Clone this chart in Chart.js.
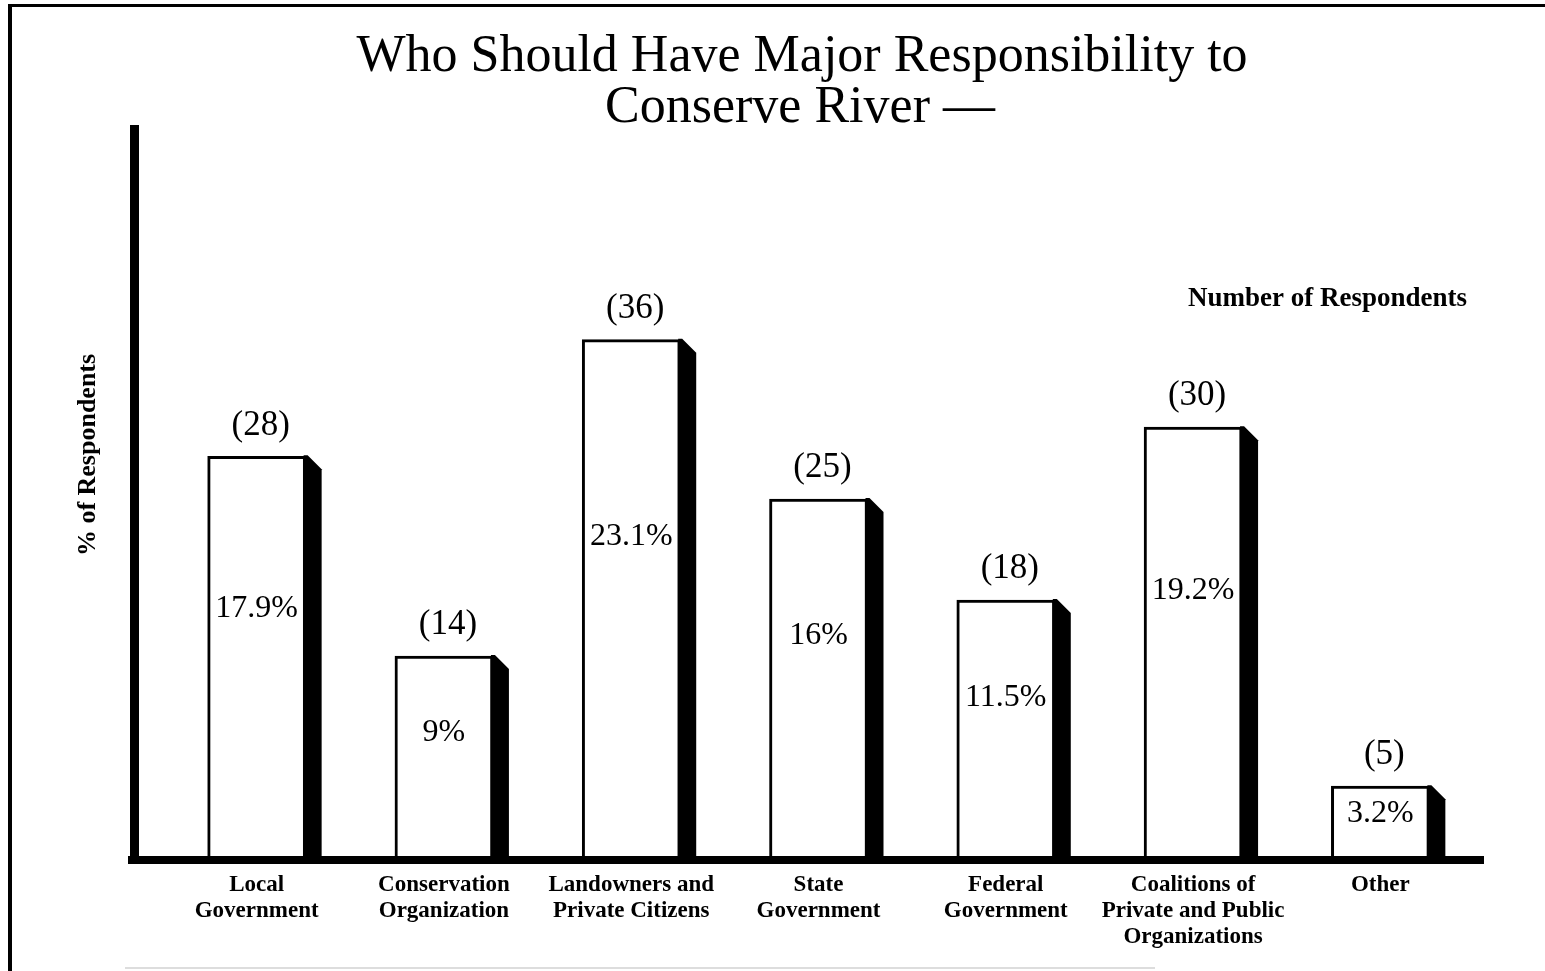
<!DOCTYPE html>
<html>
<head>
<meta charset="utf-8">
<title>Who Should Have Major Responsibility to Conserve River</title>
<script src="https://cdn.jsdelivr.net/npm/chart.js@4/dist/chart.umd.min.js"></script>
<style>
  html, body { margin: 0; padding: 0; background: #fff; }
  #wrap { position: relative; width: 1545px; height: 971px; }
</style>
</head>
<body>
<div id="wrap"><canvas id="respChart" width="1545" height="971"></canvas></div>
<script>
// data
const categories = [
    ['Local', 'Government'],
    ['Conservation', 'Organization'],
    ['Landowners and', 'Private Citizens'],
    ['State', 'Government'],
    ['Federal', 'Government'],
    ['Coalitions of', 'Private and Public', 'Organizations'],
    ['Other']
];
const percentValues = [17.9, 9, 23.1, 16, 11.5, 19.2, 3.2];
const respondentCounts = [28, 14, 36, 25, 18, 30, 5];
const titleLines = ['Who Should Have Major Responsibility to', 'Conserve River \u2014'];

const SERIF = '"Liberation Serif", "DejaVu Serif", serif';

// frame, title, thick axes, 3d side of bars and the text labels
const decorPlugin = {
    id: 'decor',
    beforeDraw(chart) {
        const ctx = chart.ctx;
        ctx.save();
        ctx.fillStyle = '#fff';
        ctx.fillRect(0, 0, chart.width, chart.height);
        ctx.fillStyle = '#000';
        ctx.fillRect(8, 4, chart.width - 8, 3);
        ctx.fillRect(8, 4, 4, chart.height - 4);
        ctx.fillStyle = '#ddd';
        ctx.fillRect(125, 967, 1030, 2);

        ctx.fillStyle = '#000';
        ctx.textAlign = 'center';
        ctx.textBaseline = 'middle';
        ctx.font = '52px ' + SERIF;
        ctx.fillText(titleLines[0], 802, 57);
        ctx.fillText(titleLines[1], 800, 108);
        ctx.restore();
    },
    afterDatasetsDraw(chart) {
        const ctx = chart.ctx;
        const area = chart.chartArea;
        const bars = chart.getDatasetMeta(0).data;
        ctx.save();

        // side shading of each bar
        ctx.fillStyle = '#000';
        bars.forEach(bar => {
            const right = bar.x + bar.width / 2;
            ctx.beginPath();
            ctx.moveTo(right - 2, bar.y - 1);
            ctx.lineTo(right + 2, bar.y - 1);
            ctx.lineTo(right + 16, bar.y + 13);
            ctx.lineTo(right + 16, bar.base);
            ctx.lineTo(right - 2, bar.base);
            ctx.closePath();
            ctx.fill();
        });

        // thick axis lines
        ctx.fillRect(area.left - 33, 125, 9, area.bottom - 125 + 6);
        ctx.fillRect(area.left - 35, area.bottom - 2, area.right - area.left + 45, 8);

        // labels
        ctx.textAlign = 'center';
        ctx.textBaseline = 'middle';
        bars.forEach((bar, i) => {
            ctx.font = '35px ' + SERIF;
            ctx.fillText('(' + respondentCounts[i] + ')', bar.x + 4, bar.y - 31);
            ctx.font = '32px ' + SERIF;
            const ty = bar.y + (bar.base - bar.y) * 0.38;
            ctx.fillText(percentValues[i] + '%', bar.x, ty);
        });

        ctx.font = 'bold 27px ' + SERIF;
        ctx.textAlign = 'right';
        ctx.fillText('Number of Respondents', area.right - 7, 299);

        ctx.translate(88, 455);
        ctx.rotate(-Math.PI / 2);
        ctx.textAlign = 'center';
        ctx.font = 'bold 26px ' + SERIF;
        ctx.fillText('% of Respondents', 0, 0);
        ctx.restore();
    }
};

new Chart(document.getElementById('respChart'), {
    type: 'bar',
    data: {
        labels: categories,
        datasets: [{
            data: percentValues,
            backgroundColor: '#fff',
            borderColor: '#000',
            borderWidth: 3,
            barThickness: 98
        }]
    },
    options: {
        responsive: false,
        animation: false,
        layout: { padding: { left: 163, right: 71, top: 140, bottom: 0 } },
        plugins: {
            legend: { display: false },
            tooltip: { enabled: false },
            title: { display: false }
        },
        scales: {
            x: {
                grid: { display: false, drawTicks: false },
                border: { display: false },
                ticks: {
                    color: '#000',
                    padding: 14,
                    maxRotation: 0,
                    autoSkip: false,
                    font: { family: SERIF, size: 23, weight: 'bold', lineHeight: '26px' }
                },
                afterFit(scale) { scale.height = 113; }
            },
            y: {
                display: false,
                min: 0,
                max: 32
            }
        }
    },
    plugins: [decorPlugin]
});
</script>
</body>
</html>
